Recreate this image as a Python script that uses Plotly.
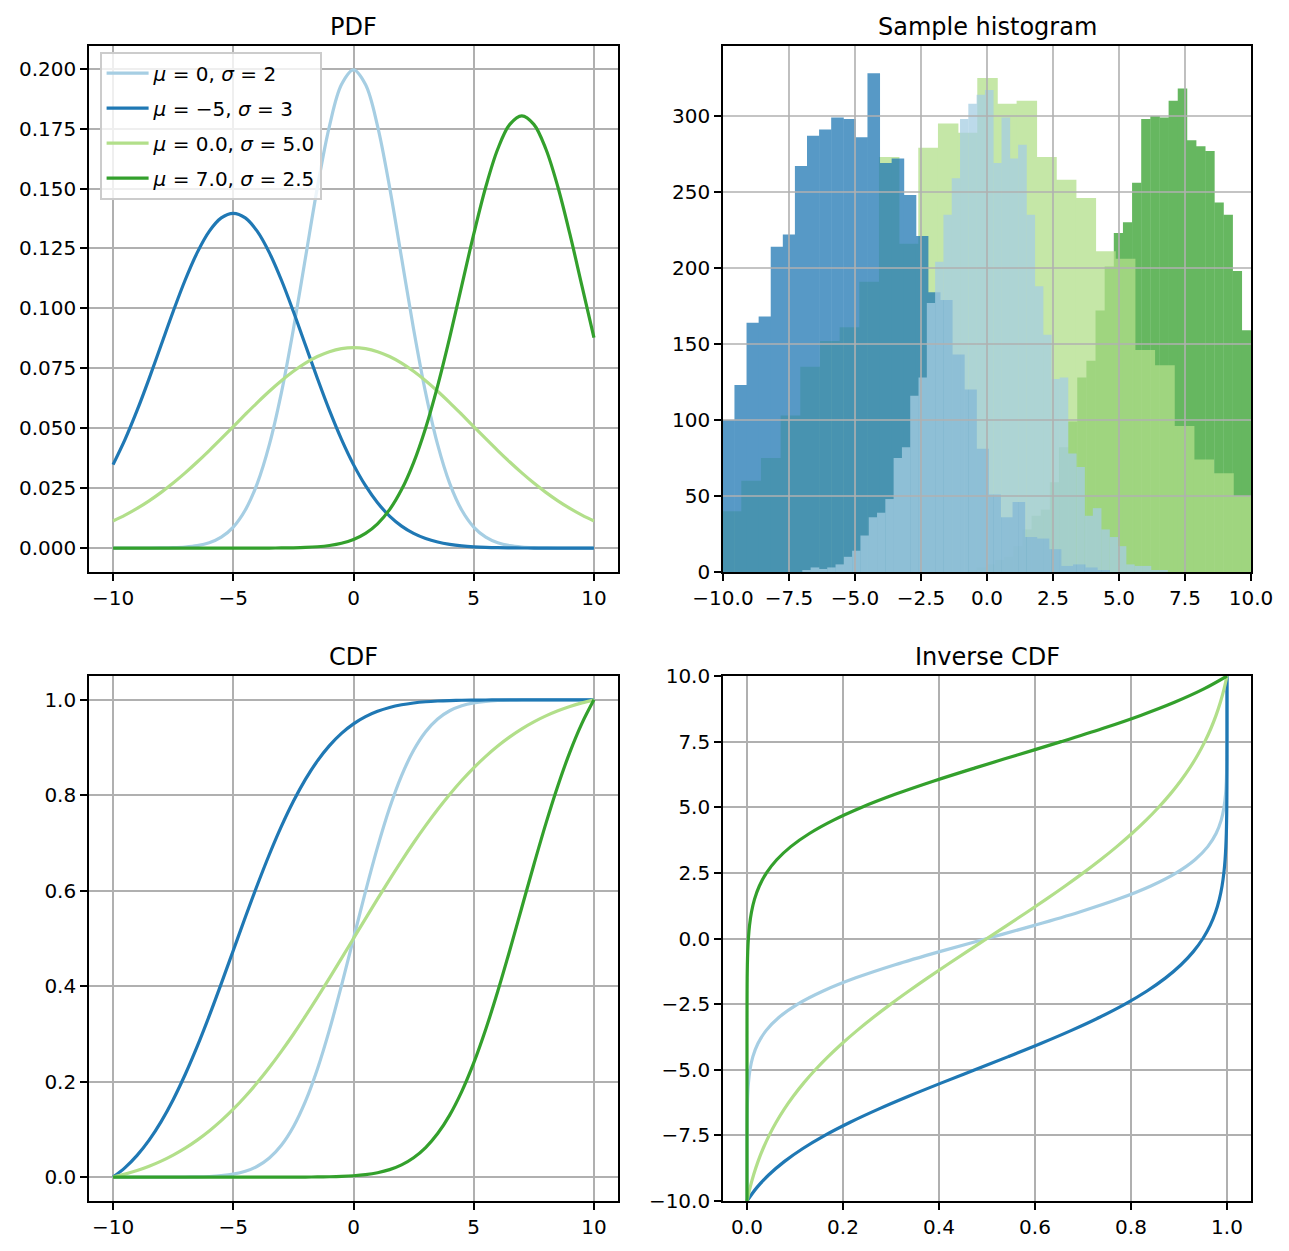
import numpy as np
import plotly.graph_objects as go

# ---------------- data ----------------
labels = ["<i>μ</i> = 0, <i>σ</i> = 2", "<i>μ</i> = −5, <i>σ</i> = 3",
          "<i>μ</i> = 0.0, <i>σ</i> = 5.0", "<i>μ</i> = 7.0, <i>σ</i> = 2.5"]
colors = ["#a6cee3", "#1f78b4", "#b2df8a", "#33a02c"]

x_grid = [-10.0, -9.5, -9.0, -8.5, -8.0, -7.5, -7.0, -6.5, -6.0, -5.5, -5.0, -4.5, -4.0, -3.5,
          -3.0, -2.5, -2.0, -1.5, -1.0, -0.5, 0.0, 0.5, 1.0, 1.5, 2.0, 2.5, 3.0, 3.5, 4.0, 4.5,
          5.0, 5.5, 6.0, 6.5, 7.0, 7.5, 8.0, 8.5, 9.0, 9.5, 10.0]

pdf_1 = [0.0000007, 0.0000025, 0.000008, 0.000024, 0.000067, 0.000176, 0.000436, 0.001015,
         0.002216, 0.004547, 0.008764, 0.015870, 0.026995, 0.043139, 0.064759, 0.091325,
         0.120985, 0.150569, 0.176033, 0.193334, 0.199471, 0.193334, 0.176033, 0.150569,
         0.120985, 0.091325, 0.064759, 0.043139, 0.026995, 0.015870, 0.008764, 0.004547,
         0.002216, 0.001015, 0.000436, 0.000176, 0.000067, 0.000024, 0.000008, 0.0000025, 0.0000007]
pdf_2 = [0.034823, 0.045340, 0.057414, 0.070712, 0.084705, 0.098687, 0.111827, 0.123245,
         0.132108, 0.137729, 0.139656, 0.137729, 0.132108, 0.123245, 0.111827, 0.098687,
         0.084705, 0.070712, 0.057414, 0.045340, 0.034823, 0.026015, 0.018900, 0.013356,
         0.009179, 0.006136, 0.003989, 0.002523, 0.001551, 0.000928, 0.000540, 0.000305,
         0.000168, 0.000090, 0.000047, 0.000024, 0.000012, 0.000006, 0.000003, 0.000001, 0.0000005]
pdf_3 = [0.011313, 0.013749, 0.016543, 0.019706, 0.023242, 0.027138, 0.031373, 0.035907,
         0.040689, 0.045647, 0.050701, 0.055754, 0.060700, 0.065428, 0.069822, 0.073770,
         0.077165, 0.079914, 0.081937, 0.083175, 0.083592, 0.083175, 0.081937, 0.079914,
         0.077165, 0.073770, 0.069822, 0.065428, 0.060700, 0.055754, 0.050701, 0.045647,
         0.040689, 0.035907, 0.031373, 0.027138, 0.023242, 0.019706, 0.016543, 0.013749, 0.011313]
pdf_4 = [0.0, 0.0, 0.0, 0.0, 0.0, 0.0, 0.0, 0.0000001, 0.0000002, 0.0000007, 0.0000018,
         0.0000046, 0.0000113, 0.0000267, 0.0000605, 0.000132, 0.000277, 0.000557, 0.001078,
         0.002003, 0.003578, 0.006140, 0.010123, 0.016035, 0.024405, 0.035686, 0.050138,
         0.067678, 0.087774, 0.109374, 0.130945, 0.150623, 0.166463, 0.176757, 0.180327,
         0.176757, 0.166463, 0.150623, 0.130945, 0.109374, 0.087774]

cdf_1 = [0.0, 0.000001, 0.0000034, 0.0000107, 0.0000317, 0.0000884, 0.000233, 0.000577,
         0.001350, 0.002980, 0.006210, 0.012224, 0.022750, 0.040059, 0.066807, 0.105650,
         0.158655, 0.226627, 0.308538, 0.401294, 0.5, 0.598706, 0.691462, 0.773373, 0.841345,
         0.894350, 0.933193, 0.959941, 0.977250, 0.987776, 0.993790, 0.997020, 0.998650,
         0.999423, 0.999767, 0.999912, 0.999968, 0.999989, 0.999997, 0.999999, 1.0]
cdf_2 = [0.0, 0.019971, 0.045600, 0.077591, 0.116429, 0.162294, 0.214977, 0.273835, 0.337794,
         0.405399, 0.474906, 0.544411, 0.612017, 0.675977, 0.734834, 0.787516, 0.833381,
         0.872219, 0.904210, 0.929838, 0.949808, 0.964945, 0.976108, 0.984110, 0.989692,
         0.993478, 0.995978, 0.997582, 0.998583, 0.999191, 0.999550, 0.999756, 0.999871,
         0.999934, 0.999966, 0.999984, 0.999992, 0.999996, 0.999998, 0.999999, 1.0]
cdf_3 = [0.0, 0.006251, 0.013808, 0.022855, 0.033577, 0.046157, 0.060772, 0.077580, 0.096721,
         0.118299, 0.142383, 0.168999, 0.198119, 0.229664, 0.263492, 0.299411, 0.337169,
         0.376468, 0.416962, 0.458273, 0.5, 0.541727, 0.583038, 0.623532, 0.662831, 0.700589,
         0.736508, 0.770336, 0.801881, 0.831001, 0.857617, 0.881701, 0.903279, 0.922420,
         0.939228, 0.953843, 0.966423, 0.977145, 0.986192, 0.993749, 1.0]
cdf_4 = [0.0, 0.0, 0.0, 0.0, 0.0, 0.0, 0.0, 0.0, 0.0000001, 0.0000003, 0.0000009, 0.0000024,
         0.0000061, 0.0000150, 0.0000358, 0.0000817, 0.000180, 0.000381, 0.000776, 0.001526,
         0.002887, 0.005267, 0.009264, 0.015711, 0.025708, 0.040602, 0.061925, 0.091259,
         0.130033, 0.179286, 0.239405, 0.309916, 0.389384, 0.475450, 0.565017, 0.654584,
         0.740651, 0.820118, 0.890628, 0.950747, 1.0]

# sample histograms: first bin edge, bin width, counts per bin
hist_lblue_start, hist_lblue_width = -6.989, 0.3144
hist_lblue_counts = [1, 3, 2, 3, 5, 10, 14, 24, 36, 39, 48, 75, 82, 116, 128, 177, 204, 235, 259,
                     298, 308, 314, 317, 269, 299, 272, 281, 235, 188, 156, 127, 128, 78, 69, 37,
                     42, 28, 23, 17, 5, 4, 4, 1, 1]
hist_blue_start, hist_blue_width = -10.015, 0.458
hist_blue_counts = [100, 123, 164, 168, 214, 222, 267, 287, 291, 299, 298, 286, 328, 269, 272,
                    248, 221, 184, 179, 143, 120, 81, 51, 36, 46, 23, 22, 15, 4, 5, 3, 1]
hist_lgreen_start, hist_lgreen_width = -10.038, 0.745
hist_lgreen_counts = [40, 60, 75, 103, 135, 152, 161, 191, 273, 216, 279, 295, 289, 325, 308,
                      310, 273, 258, 246, 211, 206, 146, 136, 96, 74, 65, 50]
hist_green_start, hist_green_width = -0.726, 0.346
hist_green_counts = [1, 3, 5, 8, 10, 17, 28, 37, 41, 59, 82, 99, 128, 139, 172, 201, 223, 230,
                     256, 298, 300, 299, 310, 318, 284, 280, 277, 243, 235, 198, 159]

# ticks
pdf_xticks = [-10, -5, 0, 5, 10]
pdf_xticktext = ["−10", "−5", "0", "5", "10"]
pdf_yticks = [0.0, 0.025, 0.05, 0.075, 0.1, 0.125, 0.15, 0.175, 0.2]
pdf_yticktext = ["0.000", "0.025", "0.050", "0.075", "0.100", "0.125", "0.150", "0.175", "0.200"]
hist_xticks = [-10, -7.5, -5, -2.5, 0, 2.5, 5, 7.5, 10]
hist_xticktext = ["−10.0", "−7.5", "−5.0", "−2.5", "0.0", "2.5", "5.0", "7.5", "10.0"]
hist_yticks = [0, 50, 100, 150, 200, 250, 300]
cdf_yticks = [0.0, 0.2, 0.4, 0.6, 0.8, 1.0]
cdf_yticktext = ["0.0", "0.2", "0.4", "0.6", "0.8", "1.0"]
inv_yticks = [-10, -7.5, -5, -2.5, 0, 2.5, 5, 7.5, 10]
inv_yticktext = ["−10.0", "−7.5", "−5.0", "−2.5", "0.0", "2.5", "5.0", "7.5", "10.0"]

titles = ["PDF", "Sample histogram", "CDF", "Inverse CDF"]

# ---------------- figure ----------------
W, H = 1289, 1251
FONT = "DejaVu Sans"
GRID = "#b0b0b0"
LW = 3.2

def px_x(a, b):
    return [a / W, b / W]

def px_y(top, bottom):
    return [1 - bottom / H, 1 - top / H]

dom_x_left = px_x(89, 618)
dom_x_right = px_x(723, 1251)
dom_y_top = px_y(46, 572)
dom_y_bot = px_y(676, 1201)

fig = go.Figure()

pdfs = [pdf_1, pdf_2, pdf_3, pdf_4]
cdfs = [cdf_1, cdf_2, cdf_3, cdf_4]
for i in range(4):
    fig.add_trace(go.Scatter(x=x_grid, y=pdfs[i], mode="lines", name=labels[i],
                             line=dict(color=colors[i], width=LW, shape="spline"),
                             legendgroup="g%d" % i, xaxis="x", yaxis="y"))
for i in range(4):
    fig.add_trace(go.Scatter(x=x_grid, y=cdfs[i], mode="lines", showlegend=False,
                             line=dict(color=colors[i], width=LW, shape="spline"),
                             xaxis="x3", yaxis="y3"))
for i in range(4):
    fig.add_trace(go.Scatter(x=cdfs[i], y=x_grid, mode="lines", showlegend=False,
                             line=dict(color=colors[i], width=LW, shape="spline"),
                             xaxis="x4", yaxis="y4"))

hists = [
    (hist_green_start, hist_green_width, hist_green_counts, colors[3]),
    (hist_lgreen_start, hist_lgreen_width, hist_lgreen_counts, colors[2]),
    (hist_blue_start, hist_blue_width, hist_blue_counts, colors[1]),
    (hist_lblue_start, hist_lblue_width, hist_lblue_counts, colors[0]),
]
for start, w, counts, c in hists:
    counts = np.array(counts, dtype=float)
    centers = start + w * (np.arange(len(counts)) + 0.5)
    # slight overlap hides anti-aliasing seams; trace opacity is applied to the whole trace
    fig.add_trace(go.Bar(x=centers, y=counts, width=w * 1.04, opacity=0.75,
                         marker=dict(color=c, line=dict(width=0)),
                         showlegend=False, xaxis="x2", yaxis="y2"))

axis_common = dict(showline=True, linecolor="black", linewidth=1.6, mirror=True,
                   ticks="outside", ticklen=7, tickwidth=1.6, tickcolor="black",
                   showgrid=True, gridcolor=GRID, gridwidth=1.6, zeroline=False,
                   automargin=False,
                   tickfont=dict(size=20, family=FONT, color="black"))

fig.update_layout(
    width=W, height=H, margin=dict(l=0, r=0, t=0, b=0, pad=0, autoexpand=False),
    paper_bgcolor="white", plot_bgcolor="white",
    font=dict(family=FONT, color="black", size=20),
    barmode="overlay",
    xaxis=dict(axis_common, domain=dom_x_left, range=[-11, 11], anchor="y",
               tickvals=pdf_xticks, ticktext=pdf_xticktext),
    yaxis=dict(axis_common, domain=dom_y_top, range=[-0.00997, 0.20944], anchor="x",
               tickvals=pdf_yticks, ticktext=pdf_yticktext),
    xaxis2=dict(axis_common, domain=dom_x_right, range=[-10, 10], anchor="y2", showgrid=False,
                tickvals=hist_xticks, ticktext=hist_xticktext),
    yaxis2=dict(axis_common, domain=dom_y_top, range=[0, 346], anchor="x2", showgrid=False,
                tickvals=hist_yticks),
    xaxis3=dict(axis_common, domain=dom_x_left, range=[-11, 11], anchor="y3",
                tickvals=pdf_xticks, ticktext=pdf_xticktext),
    yaxis3=dict(axis_common, domain=dom_y_bot, range=[-0.05, 1.05], anchor="x3",
                tickvals=cdf_yticks, ticktext=cdf_yticktext),
    xaxis4=dict(axis_common, domain=dom_x_right, range=[-0.05, 1.05], anchor="y4",
                tickvals=cdf_yticks, ticktext=cdf_yticktext),
    yaxis4=dict(axis_common, domain=dom_y_bot, range=[-10, 10], anchor="x4",
                tickvals=inv_yticks, ticktext=inv_yticktext),
    legend=dict(x=100 / W, y=1 - 52 / H, xanchor="left", yanchor="top",
                bgcolor="rgba(255,255,255,0.8)", bordercolor="#cccccc", borderwidth=1.6,
                font=dict(size=20, family=FONT, color="black"), tracegroupgap=6,
                itemwidth=42),
)

# histogram grid drawn above the bars (as matplotlib does)
shapes = []
for v in hist_xticks[1:-1]:
    shapes.append(dict(type="line", xref="x2", yref="y2 domain", x0=v, x1=v, y0=0, y1=1,
                       line=dict(color=GRID, width=1.6), layer="above"))
for v in hist_yticks[1:]:
    shapes.append(dict(type="line", xref="x2 domain", yref="y2", x0=0, x1=1, y0=v, y1=v,
                       line=dict(color=GRID, width=1.6), layer="above"))
fig.update_layout(shapes=shapes)

# subplot titles
anns = []
for t, dx, dy in zip(titles, [dom_x_left, dom_x_right, dom_x_left, dom_x_right],
                     [dom_y_top, dom_y_top, dom_y_bot, dom_y_bot]):
    anns.append(dict(text=t, x=(dx[0] + dx[1]) / 2, y=dy[1], xref="paper", yref="paper",
                     xanchor="center", yanchor="bottom", yshift=3, showarrow=False,
                     font=dict(size=24, family=FONT, color="black")))
fig.update_layout(annotations=anns)

fig.write_html("out.html")
